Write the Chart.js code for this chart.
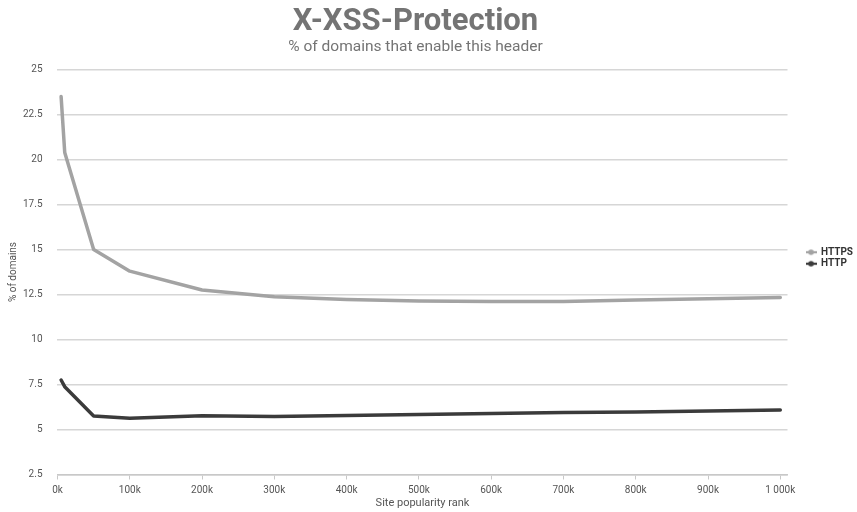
<!DOCTYPE html>
<html>
<head>
<meta charset="utf-8">
<script src="https://cdn.jsdelivr.net/npm/chart.js@4/dist/chart.umd.min.js"></script>
<style>
html,body{margin:0;padding:0;background:#fff;}
#wrap{width:857px;height:512px;position:relative;}
</style>
</head>
<body>
<div id="wrap"><canvas id="c" width="857" height="512"></canvas></div>
<script>
const ranksK = [5, 10, 50, 100, 200, 300, 400, 500, 600, 700, 800, 900, 1000];
const httpsValues = [23.5, 20.4, 15.0, 13.8, 12.75, 12.38, 12.22, 12.14, 12.12, 12.12, 12.2, 12.27, 12.33];
const httpValues = [7.75, 7.38, 5.75, 5.63, 5.76, 5.72, 5.78, 5.84, 5.89, 5.94, 5.98, 6.03, 6.08];
const xTickValues = [0, 100, 200, 300, 400, 500, 600, 700, 800, 900, 1000];
const xTickLabels = ['0k', '100k', '200k', '300k', '400k', '500k', '600k', '700k', '800k', '900k', '1 000k'];
const yTickValues = [2.5, 5, 7.5, 10, 12.5, 15, 17.5, 20, 22.5, 25];

function legendIcon(color) {
  const cv = document.createElement('canvas');
  cv.width = 11; cv.height = 8;
  const g = cv.getContext('2d');
  g.strokeStyle = color; g.lineWidth = 2.2;
  g.beginPath(); g.moveTo(0, 4); g.lineTo(11, 4); g.stroke();
  g.fillStyle = color;
  g.beginPath(); g.arc(5.5, 4, 2.8, 0, Math.PI * 2); g.fill();
  return cv;
}

const adjustBoxes = {
  id: 'adjustBoxes',
  afterLayout(chart) {
    const lg = chart.legend;
    lg.top += 2; lg.bottom += 2;
    lg.left += 17; lg.right += 17;
    chart.boxes.forEach(b => {
      if (b.options && typeof b.options.text === 'string' && b.position === 'top') {
        b.left -= 11; b.right -= 11;
      }
    });
  }
};

const ctx = document.getElementById('c').getContext('2d');
new Chart(ctx, {
  type: 'line',
  data: {
    datasets: [
      {
        label: 'HTTPS',
        data: ranksK.map((x, i) => ({x: x, y: httpsValues[i]})),
        borderColor: '#a3a3a3',
        backgroundColor: '#a3a3a3',
        borderWidth: 3.5,
        pointRadius: 0,
        borderJoinStyle: 'round',
        borderCapStyle: 'round',
        pointStyle: legendIcon('#a3a3a3')
      },
      {
        label: 'HTTP',
        data: ranksK.map((x, i) => ({x: x, y: httpValues[i]})),
        borderColor: '#3b3b3b',
        backgroundColor: '#3b3b3b',
        borderWidth: 3.5,
        pointRadius: 0,
        borderJoinStyle: 'round',
        borderCapStyle: 'round',
        pointStyle: legendIcon('#3b3b3b')
      }
    ]
  },
  options: {
    responsive: false,
    animation: false,
    layout: {padding: {top: 0, right: 11, left: 7, bottom: 0}},
    plugins: {
      title: {
        display: true,
        text: 'X-XSS-Protection',
        color: '#747474',
        font: {family: 'Roboto', size: 31, weight: 'bold', lineHeight: 1.0},
        padding: {top: 7, bottom: 0}
      },
      subtitle: {
        display: true,
        text: '% of domains that enable this header',
        color: '#747474',
        font: {family: 'Roboto', size: 15.5},
        padding: {top: 0, bottom: 13}
      },
      legend: {
        position: 'right',
        align: 'center',
        labels: {
          usePointStyle: true,
          pointStyleWidth: 10,
          color: '#333',
          font: {family: 'Roboto', size: 10, weight: 'bold'},
          padding: 1.5,
          boxWidth: 10,
          boxHeight: 8
        }
      },
      tooltip: {enabled: false}
    },
    scales: {
      x: {
        type: 'linear',
        min: 0,
        max: 1010,
        afterBuildTicks(axis) {
          axis.ticks = xTickValues.map(v => ({value: v}));
        },
        afterFit(scale) { scale.height = 37.5; },
        ticks: {
          color: '#555',
          font: {family: 'Roboto', size: 10},
          maxRotation: 0,
          padding: 5,
          callback(value) {
            const i = xTickValues.indexOf(value);
            return i >= 0 ? xTickLabels[i] : '';
          }
        },
        grid: {
          drawOnChartArea: false,
          drawTicks: true,
          tickLength: 5,
          color: '#c8c8c8'
        },
        border: {display: true, color: '#c8c8c8', width: 1.5},
        title: {
          display: true,
          text: 'Site popularity rank',
          color: '#555',
          font: {family: 'Roboto', size: 11},
          padding: {top: 0, bottom: 2}
        }
      },
      y: {
        type: 'linear',
        min: 2.5,
        max: 25,
        afterBuildTicks(axis) {
          axis.ticks = yTickValues.map(v => ({value: v}));
        },
        afterFit(scale) { scale.width -= 11; },
        ticks: {
          color: '#555',
          font: {family: 'Roboto', size: 10},
          padding: 15,
          callback(value) { return String(value); }
        },
        grid: {
          color: '#d6d6d6',
          lineWidth: 1.5,
          drawTicks: false
        },
        border: {display: false},
        title: {
          display: true,
          text: '% of domains',
          color: '#555',
          font: {family: 'Roboto', size: 10},
          padding: {top: 0, bottom: 0}
        }
      }
    }
  },
  plugins: [adjustBoxes]
});
</script>
</body>
</html>
